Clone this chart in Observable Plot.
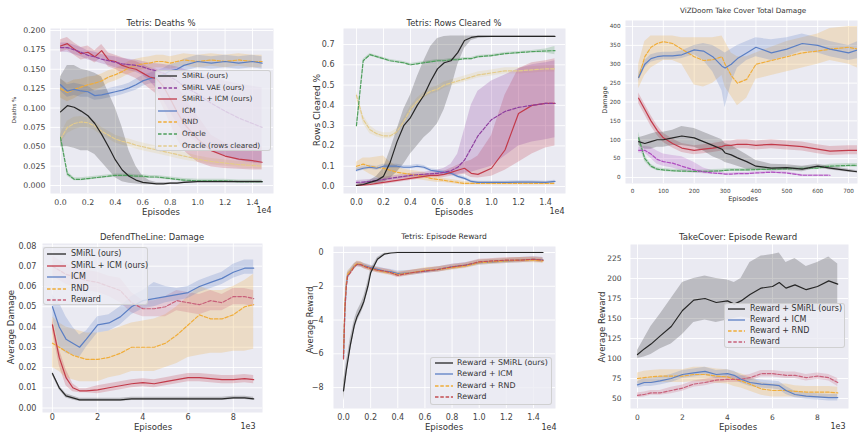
<!DOCTYPE html>
<html><head><meta charset="utf-8">
<script src="https://cdn.jsdelivr.net/npm/d3@7"></script>
<script src="https://cdn.jsdelivr.net/npm/@observablehq/plot@0.6"></script>
<style>
html,body{margin:0;padding:0;background:#fff;}
#root{position:relative;width:860px;height:443px;overflow:hidden;font-family:"DejaVu Sans",sans-serif;color:#333;}
.pl{position:absolute;}
.tx{position:absolute;white-space:nowrap;line-height:1;}
.lg{position:absolute;box-sizing:border-box;background:rgba(236,236,243,0.82);border:1px solid rgba(205,205,205,0.9);border-radius:3px;}
.lgt{position:absolute;white-space:nowrap;line-height:1;color:#333;transform:translateY(-50%);}
.lgs{position:absolute;overflow:visible;}
</style></head><body><div id="root"></div><script>
// ---------- colours ----------
const BG = "#eaeaf2";
const C = {black:"#262626", vae:"#8e3f9f", smicm:"#c23a4a", icm:"#5b7fc4", rnd:"#f0ad3a",
           oracle:"#4e9f5c", orows:"#e3cb8c", reward:"#c8607a", reward5:"#c44e52", vae3:"#b04fc0"};

// ---------- Tetris: Deaths % (x in 1e4 episodes) ----------
const tetrisX = [0,0.05,0.1,0.15,0.2,0.25,0.3,0.35,0.4,0.45,0.5,0.55,0.6,0.65,0.7,0.75,0.8,0.85,0.9,1.0,1.1,1.2,1.3,1.4,1.47];
const deathsSmirl   = [0.095,0.103,0.101,0.096,0.090,0.080,0.066,0.050,0.033,0.020,0.012,0.007,0.004,0.003,0.002,0.002,0.003,0.003,0.004,0.005,0.005,0.005,0.005,0.005,0.005];
const deathsSmirlLo = [0.050,0.050,0.048,0.045,0.045,0.040,0.030,0.020,0.010,0.005,0.003,0.002,0.001,0.001,0.001,0.001,0.002,0.002,0.003,0.004,0.004,0.004,0.004,0.004,0.004];
const deathsSmirlHi = [0.140,0.155,0.155,0.150,0.148,0.145,0.140,0.120,0.100,0.075,0.045,0.025,0.012,0.006,0.004,0.004,0.004,0.004,0.005,0.006,0.006,0.006,0.006,0.006,0.006];
const deathsVae     = [0.178,0.178,0.175,0.172,0.168,0.166,0.163,0.161,0.159,0.157,0.156,0.155,0.153,0.150,0.148,0.145,0.140,0.135,0.128,0.118,0.106,0.096,0.087,0.080,0.075];
const deathsVaeLo   = [0.172,0.172,0.169,0.166,0.162,0.160,0.157,0.155,0.152,0.150,0.148,0.146,0.142,0.135,0.125,0.110,0.095,0.080,0.068,0.055,0.045,0.038,0.032,0.029,0.028];
const deathsVaeHi   = [0.184,0.184,0.181,0.178,0.174,0.172,0.169,0.167,0.166,0.164,0.163,0.162,0.160,0.158,0.157,0.156,0.155,0.153,0.150,0.145,0.140,0.135,0.131,0.128,0.126];
const deathsSmIcm   = [0.180,0.183,0.176,0.170,0.172,0.166,0.174,0.162,0.160,0.155,0.152,0.150,0.145,0.140,0.138,0.128,0.112,0.095,0.080,0.060,0.045,0.038,0.034,0.032,0.030];
const deathsSmIcmLo = [0.172,0.175,0.168,0.162,0.164,0.158,0.165,0.153,0.150,0.145,0.142,0.138,0.132,0.125,0.118,0.100,0.080,0.060,0.045,0.030,0.024,0.022,0.021,0.020,0.020];
const deathsSmIcmHi = [0.188,0.191,0.184,0.178,0.180,0.174,0.182,0.171,0.168,0.165,0.162,0.160,0.156,0.152,0.150,0.145,0.140,0.130,0.115,0.090,0.065,0.055,0.050,0.050,0.050];
const deathsIcm     = [0.130,0.122,0.124,0.122,0.121,0.116,0.117,0.119,0.121,0.123,0.126,0.130,0.135,0.138,0.140,0.143,0.148,0.150,0.155,0.160,0.158,0.160,0.158,0.160,0.158];
const deathsIcmW    = [0.008,0.008,0.008,0.008,0.007,0.006,0.006,0.006,0.006,0.006,0.006,0.007,0.007,0.007,0.008,0.008,0.008,0.008,0.008,0.008,0.008,0.008,0.008,0.008,0.008];
const deathsRnd     = [0.125,0.120,0.124,0.127,0.130,0.132,0.135,0.140,0.143,0.147,0.152,0.155,0.157,0.158,0.160,0.160,0.158,0.160,0.162,0.160,0.162,0.160,0.162,0.160,0.160];
const deathsRndW    = [0.012,0.012,0.012,0.010,0.010,0.009,0.009,0.008,0.008,0.008,0.008,0.008,0.008,0.008,0.008,0.008,0.008,0.008,0.008,0.008,0.008,0.008,0.008,0.008,0.008];
const deathsOracle  = [0.062,0.015,0.008,0.008,0.009,0.010,0.011,0.012,0.013,0.013,0.013,0.012,0.012,0.011,0.011,0.010,0.009,0.008,0.007,0.006,0.006,0.006,0.005,0.005,0.005];
const deathsOracleW = [0.004,0.003,0.002,0.002,0.002,0.002,0.002,0.002,0.002,0.002,0.002,0.002,0.002,0.002,0.002,0.002,0.002,0.002,0.002,0.002,0.002,0.002,0.002,0.002,0.002];
const deathsORows   = [0.060,0.075,0.080,0.082,0.081,0.077,0.070,0.065,0.060,0.057,0.055,0.052,0.050,0.048,0.046,0.044,0.042,0.040,0.038,0.034,0.031,0.029,0.027,0.026,0.025];
const deathsORowsW  = [0.006,0.008,0.008,0.007,0.006,0.006,0.005,0.005,0.005,0.005,0.005,0.005,0.005,0.005,0.005,0.005,0.005,0.005,0.005,0.004,0.004,0.004,0.004,0.004,0.004];

// ---------- Tetris: Rows Cleared % ----------
const rowsSmirl   = [0.005,0.010,0.020,0.030,0.050,0.120,0.220,0.300,0.340,0.400,0.450,0.520,0.580,0.610,0.620,0.660,0.720,0.735,0.740,0.740,0.740,0.740,0.740,0.740,0.740];
const rowsSmirlLo = [0.000,0.005,0.010,0.015,0.020,0.040,0.070,0.110,0.160,0.200,0.240,0.270,0.310,0.380,0.480,0.600,0.680,0.720,0.730,0.735,0.735,0.735,0.735,0.735,0.735];
const rowsSmirlHi = [0.010,0.020,0.030,0.050,0.090,0.180,0.280,0.380,0.450,0.540,0.620,0.690,0.730,0.740,0.742,0.742,0.742,0.742,0.742,0.742,0.742,0.742,0.742,0.742,0.742];
const rowsVae     = [0.020,0.022,0.025,0.030,0.035,0.040,0.045,0.050,0.055,0.058,0.060,0.063,0.065,0.070,0.078,0.095,0.130,0.190,0.250,0.330,0.370,0.390,0.400,0.410,0.410];
const rowsVaeLo   = [0.010,0.012,0.015,0.020,0.025,0.030,0.035,0.040,0.045,0.048,0.050,0.052,0.054,0.056,0.058,0.060,0.065,0.070,0.080,0.100,0.150,0.200,0.220,0.230,0.240];
const rowsVaeHi   = [0.030,0.032,0.035,0.040,0.045,0.050,0.055,0.060,0.065,0.068,0.070,0.075,0.080,0.090,0.110,0.160,0.280,0.400,0.470,0.520,0.550,0.580,0.600,0.610,0.620];
const rowsSmIcm   = [0.005,0.008,0.010,0.015,0.020,0.025,0.030,0.035,0.040,0.045,0.050,0.055,0.055,0.060,0.070,0.080,0.090,0.065,0.060,0.090,0.180,0.360,0.400,0.410,0.410];
const rowsSmIcmLo = [0.000,0.000,0.002,0.005,0.010,0.015,0.020,0.025,0.030,0.035,0.040,0.043,0.043,0.045,0.050,0.055,0.060,0.045,0.042,0.050,0.080,0.120,0.160,0.190,0.200];
const rowsSmIcmHi = [0.010,0.015,0.020,0.025,0.030,0.035,0.040,0.045,0.050,0.055,0.060,0.065,0.068,0.075,0.090,0.105,0.120,0.130,0.150,0.250,0.450,0.580,0.610,0.620,0.630];
const rowsIcm     = [0.080,0.090,0.095,0.090,0.100,0.100,0.100,0.095,0.095,0.100,0.095,0.080,0.075,0.070,0.065,0.050,0.040,0.025,0.020,0.020,0.020,0.022,0.022,0.020,0.025];
const rowsIcmW    = [0.010,0.010,0.010,0.010,0.010,0.010,0.010,0.009,0.009,0.009,0.009,0.008,0.008,0.008,0.008,0.008,0.008,0.006,0.006,0.006,0.006,0.006,0.006,0.006,0.006];
const rowsRnd     = [0.100,0.110,0.100,0.095,0.090,0.080,0.070,0.065,0.060,0.055,0.050,0.040,0.035,0.030,0.025,0.020,0.015,0.015,0.015,0.015,0.015,0.015,0.015,0.015,0.015];
const rowsRndW    = [0.020,0.030,0.040,0.050,0.060,0.040,0.030,0.020,0.020,0.020,0.020,0.015,0.015,0.010,0.010,0.010,0.008,0.008,0.008,0.008,0.008,0.008,0.008,0.008,0.008];
const rowsOracle  = [0.300,0.620,0.650,0.640,0.630,0.620,0.615,0.610,0.600,0.605,0.610,0.615,0.620,0.620,0.625,0.625,0.630,0.630,0.640,0.645,0.655,0.660,0.665,0.668,0.670];
const rowsOracleW = [0.010,0.008,0.006,0.006,0.006,0.006,0.006,0.006,0.006,0.006,0.006,0.006,0.006,0.006,0.006,0.006,0.006,0.006,0.006,0.006,0.006,0.006,0.006,0.010,0.020];
const rowsORows   = [0.450,0.330,0.280,0.260,0.250,0.250,0.270,0.320,0.380,0.420,0.450,0.470,0.480,0.500,0.510,0.520,0.530,0.540,0.550,0.560,0.570,0.570,0.575,0.580,0.580];
const rowsORowsW  = [0.020,0.020,0.020,0.015,0.015,0.015,0.015,0.015,0.015,0.015,0.015,0.015,0.015,0.015,0.015,0.015,0.015,0.015,0.015,0.015,0.015,0.015,0.015,0.015,0.015];

// ---------- ViZDoom Take Cover Total Damage ----------
const doomX = [20,40,60,80,100,130,160,200,230,260,290,300,320,340,370,400,450,500,550,600,640,700,730];
const doomIcm     = [265,300,315,320,322,322,325,338,335,320,295,290,300,315,330,345,330,340,355,350,340,330,338];
const doomIcmLo   = [255,290,305,310,312,312,315,325,310,280,230,185,250,290,310,320,310,320,335,330,320,310,315];
const doomIcmHi   = [275,310,325,330,332,332,335,350,355,350,335,330,340,350,360,370,365,370,380,370,360,350,360];
const doomRnd     = [265,320,345,355,360,355,340,320,310,312,320,300,270,250,260,300,310,320,330,335,340,345,340];
const doomRndLo   = [235,270,290,300,310,310,300,245,240,250,270,240,215,190,210,260,270,280,290,300,310,300,290];
const doomRndHi   = [300,360,375,375,375,375,370,370,370,370,375,360,330,320,320,330,345,360,370,380,395,400,400];
const doomSmIcm   = [210,180,150,125,105,90,78,72,75,78,82,85,85,88,88,85,88,85,82,75,70,72,72];
const doomSmIcmW  = [14,14,14,13,12,12,12,12,12,12,12,12,12,12,12,12,12,12,12,12,12,12,12];
const doomSmirl   = [95,90,95,100,100,105,110,105,95,85,75,65,60,52,42,30,25,26,22,30,25,18,15];
const doomSmirlLo = [85,75,75,80,80,85,85,80,70,55,45,40,35,30,22,20,18,18,15,25,20,14,12];
const doomSmirlHi = [105,110,115,120,120,125,135,130,120,110,100,90,85,75,60,45,35,34,30,35,30,22,18];
const doomOracle  = [105,50,30,22,20,18,17,16,16,17,18,19,20,20,20,21,22,23,24,25,30,32,32];
const doomOracleW = [15,8,5,4,4,4,4,4,4,4,4,4,4,4,4,4,4,4,4,4,5,5,5];
const doomVae     = [72,72,62,48,42,38,30,20,15,12,10,9,9,10,10,12,14,12,6,6,6,null,null];
const doomVaeLo   = [65,65,50,35,30,25,18,12,10,8,7,6,6,7,7,9,11,9,4,4,4,null,null];
const doomVaeHi   = [80,82,80,70,62,58,55,40,25,18,14,12,12,13,13,15,17,15,8,8,8,null,null];

// ---------- DefendTheLine: Damage (x in 1e3 episodes) ----------
const dtlX = [0,0.3,0.6,0.9,1.2,1.5,2,2.5,3,3.5,4,4.5,5,5.5,6,6.5,7,7.5,8,8.5,8.9];
const dtlSmirl   = [0.017,0.010,0.006,0.005,0.004,0.004,0.004,0.004,0.004,0.0045,0.0045,0.0045,0.0045,0.0045,0.0045,0.0045,0.0045,0.0045,0.005,0.005,0.0045];
const dtlSmirlW  = [0.001,0.001,0.001,0.001,0.0008,0.0008,0.0008,0.0008,0.0008,0.0008,0.0008,0.0008,0.0008,0.0008,0.0008,0.0008,0.0008,0.0008,0.0008,0.0008,0.0008];
const dtlSmIcm   = [0.041,0.025,0.015,0.010,0.0085,0.0085,0.009,0.010,0.011,0.012,0.0125,0.012,0.013,0.014,0.015,0.015,0.0145,0.014,0.014,0.0145,0.014];
const dtlSmIcmW  = [0.003,0.004,0.004,0.002,0.001,0.001,0.002,0.002,0.002,0.002,0.002,0.002,0.002,0.002,0.002,0.002,0.002,0.002,0.002,0.002,0.002];
const dtlIcm     = [0.050,0.040,0.034,0.032,0.030,0.034,0.041,0.042,0.045,0.050,0.053,0.054,0.055,0.056,0.057,0.060,0.062,0.064,0.067,0.069,0.069];
const dtlIcmLo   = [0.045,0.030,0.027,0.026,0.025,0.030,0.037,0.038,0.041,0.046,0.049,0.050,0.052,0.053,0.054,0.057,0.059,0.061,0.064,0.066,0.066];
const dtlIcmHi   = [0.056,0.052,0.045,0.040,0.036,0.038,0.045,0.046,0.050,0.055,0.058,0.062,0.060,0.059,0.060,0.063,0.065,0.067,0.071,0.073,0.073];
const dtlRnd     = [0.032,0.030,0.028,0.026,0.025,0.024,0.024,0.025,0.027,0.030,0.030,0.030,0.032,0.036,0.041,0.046,0.044,0.044,0.046,0.050,0.051];
const dtlRndLo   = [0.020,0.018,0.015,0.014,0.013,0.013,0.013,0.015,0.016,0.018,0.018,0.018,0.020,0.022,0.025,0.026,0.027,0.027,0.028,0.028,0.029];
const dtlRndHi   = [0.045,0.042,0.040,0.039,0.038,0.037,0.037,0.038,0.040,0.042,0.043,0.044,0.046,0.050,0.055,0.060,0.058,0.058,0.060,0.063,0.066];
const dtlReward  = [0.070,0.068,0.066,0.065,0.064,0.063,0.062,0.060,0.058,0.052,0.049,0.049,0.050,0.053,0.052,0.051,0.053,0.052,0.055,0.055,0.054];
const dtlRewardW = [0.005,0.005,0.005,0.005,0.005,0.005,0.005,0.005,0.006,0.005,0.004,0.004,0.005,0.005,0.005,0.005,0.005,0.004,0.004,0.004,0.004];

// ---------- Tetris: Episode Reward (x in 1e4 episodes) ----------
const trX = [0,0.01,0.02,0.03,0.05,0.08,0.1,0.13,0.15,0.18,0.2,0.25,0.3,0.35,0.4,0.5,0.6,0.7,0.8,0.9,1.0,1.1,1.2,1.3,1.4,1.47];
const trSmirl  = [-8.2,-7.6,-7.0,-6.5,-5.5,-4.3,-3.8,-3.3,-2.9,-2.0,-1.2,-0.4,-0.1,-0.03,0,0,0,0,0,0,0,0,0,0,0,0];
const trSmirlW = [0.6,0.5,0.5,0.4,0.4,0.3,0.3,0.3,0.3,0.3,0.2,0.1,0.05,0.02,0.02,0.02,0.02,0.02,0.02,0.02,0.02,0.02,0.02,0.02,0.02,0.02];
const trIcm    = [-6.2,-3.5,-2.0,-1.4,-1.1,-0.8,-0.7,-0.72,-0.78,-0.85,-0.9,-1.0,-1.1,-1.15,-1.25,-1.2,-1.1,-1.0,-0.85,-0.75,-0.6,-0.55,-0.5,-0.45,-0.4,-0.45];
const trRnd    = [-6.0,-3.2,-1.9,-1.3,-1.1,-0.8,-0.65,-0.7,-0.8,-0.9,-0.95,-1.05,-1.15,-1.2,-1.3,-1.2,-1.05,-1.0,-0.9,-0.8,-0.6,-0.55,-0.5,-0.45,-0.45,-0.5];
const trReward = [-6.3,-3.4,-2.1,-1.4,-1.2,-0.85,-0.7,-0.72,-0.82,-0.9,-0.95,-1.05,-1.1,-1.2,-1.35,-1.2,-1.1,-1.0,-0.85,-0.75,-0.55,-0.5,-0.45,-0.45,-0.4,-0.45];
const trW      = [0.3,0.3,0.25,0.2,0.15,0.15,0.15,0.15,0.15,0.15,0.15,0.15,0.15,0.15,0.15,0.15,0.15,0.15,0.15,0.15,0.15,0.15,0.15,0.15,0.15,0.15];

// ---------- TakeCover: Episode Reward (x in 1e3 episodes) ----------
const tcX = [0,0.3,0.6,1,1.5,2,2.5,3,3.5,4,4.3,4.6,5,5.5,6,6.3,6.6,7,7.5,8,8.5,8.9];
const tcSmirl   = [105,112,118,128,140,160,173,175,170,172,168,172,180,188,190,195,188,192,186,190,197,193];
const tcSmirlLo = [100,102,105,112,118,130,145,148,145,148,150,152,150,155,158,162,160,160,158,160,165,165];
const tcSmirlHi = [110,125,140,155,175,195,200,203,200,198,195,200,220,228,230,232,220,225,215,220,227,218];
const tcIcm     = [67,70,70,72,75,80,82,84,80,81,79,74,70,68,67,66,60,55,53,52,51,51];
const tcIcmW    = [4,5,5,5,5,5,5,5,5,5,5,5,5,5,5,5,5,4,4,4,4,4];
const tcRnd     = [75,76,77,78,78,78,80,80,78,77,74,72,68,62,60,60,60,59,58,58,58,57];
const tcRndW    = [7,8,8,8,8,8,9,9,9,9,9,9,9,8,8,8,8,7,7,7,7,7];
const tcReward  = [54,55,57,57,60,63,68,70,73,74,74,74,76,81,81,80,79,79,76,78,76,70];
const tcRewardW = [3,3,3,3,4,4,4,4,4,4,4,4,4,4,4,4,4,4,4,4,4,5];

// ---------- tick values ----------
const ticksE4 = [0,0.2,0.4,0.6,0.8,1.0,1.2,1.4];
const ticksDeaths = [0,0.025,0.05,0.075,0.1,0.125,0.15,0.175,0.2];
const ticksRows = [0,0.1,0.2,0.3,0.4,0.5,0.6,0.7];
const ticksDoomX = [0,100,200,300,400,500,600,700];
const ticksDoomY = [0,50,100,150,200,250,300,350,400];
const ticksE3 = [0,2,4,6,8];
const ticksDtl = [0,0.01,0.02,0.03,0.04,0.05,0.06,0.07,0.08];
const ticksTr = [-8,-6,-4,-2,0];
const ticksTc = [50,75,100,125,150,175,200,225];

// ---------- helpers ----------
function band(x, m, lo, hi){ return x.map((v,i)=>({x:v,m:m[i],lo:lo[i],hi:hi[i]})).filter(d=>d.m!=null); }
function bandW(x, m, w){ return x.map((v,i)=>({x:v,m:m[i],lo:m[i]-w[i],hi:m[i]+w[i]})); }
const root = document.getElementById("root");

function panel(c){
  const marks = [
    Plot.frame({fill:BG, stroke:"none"}),
    Plot.ruleX(c.xticks, {x:d=>d, stroke:"#fff", strokeWidth:0.9}),
    Plot.ruleY(c.yticks, {y:d=>d, stroke:"#fff", strokeWidth:0.9})
  ];
  for (const s of c.series) marks.push(Plot.areaY(s.data,{x:"x",y1:"lo",y2:"hi",fill:s.color,fillOpacity:s.fo ?? 0.24,clip:true}));
  for (const s of c.series) {
    const o = {x:"x",y:"m",stroke:s.color,strokeWidth:1.2,clip:true};
    if (s.dash) o.strokeDasharray = "3.5,1.8";
    marks.push(Plot.lineY(s.data,o));
  }
  marks.push(Plot.axisX({ticks:c.xticks,tickFormat:c.xfmt,tickSize:0,tickPadding:c.xpad,fontSize:c.font,label:null}));
  marks.push(Plot.axisY({ticks:c.yticks,tickFormat:c.yfmt,tickSize:0,tickPadding:c.ypad,fontSize:c.font,label:null}));
  const svg = Plot.plot({
    width:c.W, height:c.H,
    marginLeft:c.fx0-c.L, marginRight:c.L+c.W-c.fx1, marginTop:c.fy0-c.T, marginBottom:c.T+c.H-c.fy1,
    x:{domain:c.xdom}, y:{domain:c.ydom},
    style:{fontFamily:'"DejaVu Sans",sans-serif',color:"#444",background:"transparent",overflow:"visible"},
    marks
  });
  const d = document.createElement("div");
  d.className = "pl"; d.style.left = c.L+"px"; d.style.top = c.T+"px";
  d.appendChild(svg); root.appendChild(d);
}
function text(t, x, y, size, rot){
  const d = document.createElement("div");
  d.className = "tx"; d.textContent = t;
  d.style.left = x+"px"; d.style.top = y+"px"; d.style.fontSize = size+"px";
  d.style.transform = "translate(-50%,-50%)" + (rot ? " rotate(-90deg)" : "");
  root.appendChild(d);
}
function legend(b, items){
  const box = document.createElement("div");
  box.className = "lg";
  Object.assign(box.style,{left:b.x0+"px",top:b.y0+"px",width:(b.x1-b.x0)+"px",height:(b.y1-b.y0)+"px"});
  root.appendChild(box);
  items.forEach((it,i)=>{
    const y = b.ry + i*b.dy;
    const s = document.createElementNS("http://www.w3.org/2000/svg","svg");
    s.setAttribute("class","lgs"); s.setAttribute("width", b.lx1-b.lx0); s.setAttribute("height", 4);
    s.style.left = b.lx0+"px"; s.style.top = (y-2)+"px";
    const ln = document.createElementNS("http://www.w3.org/2000/svg","line");
    ln.setAttribute("x1",0); ln.setAttribute("x2",b.lx1-b.lx0); ln.setAttribute("y1",2); ln.setAttribute("y2",2);
    ln.setAttribute("stroke",it.color); ln.setAttribute("stroke-width",1.3);
    if (it.dash) ln.setAttribute("stroke-dasharray","3.5,1.8");
    s.appendChild(ln); root.appendChild(s);
    const t = document.createElement("div");
    t.className = "lgt"; t.textContent = it.label;
    t.style.left = b.tx+"px"; t.style.top = y+"px"; t.style.fontSize = b.font+"px";
    root.appendChild(t);
  });
}
const f1 = d3.format(".1f"), f2 = d3.format(".2f"), f3 = d3.format(".3f"), fd = d3.format("d");

// ---------- panel 1 ----------
panel({L:0,T:0,W:285,H:212,fx0:50,fx1:273,fy0:28,fy1:193,xdom:[-0.073,1.553],ydom:[-0.0103,0.2026],
  xticks:ticksE4,yticks:ticksDeaths,xfmt:f1,yfmt:f3,font:7.8,xpad:6,ypad:5,
  series:[
    {data:bandW(tetrisX,deathsORows,deathsORowsW),color:C.orows,dash:true},
    {data:bandW(tetrisX,deathsOracle,deathsOracleW),color:C.oracle,dash:true},
    {data:bandW(tetrisX,deathsRnd,deathsRndW),color:C.rnd,dash:true},
    {data:bandW(tetrisX,deathsIcm,deathsIcmW),color:C.icm},
    {data:band(tetrisX,deathsSmIcm,deathsSmIcmLo,deathsSmIcmHi),color:C.smicm},
    {data:band(tetrisX,deathsVae,deathsVaeLo,deathsVaeHi),color:C.vae,dash:true},
    {data:band(tetrisX,deathsSmirl,deathsSmirlLo,deathsSmirlHi),color:C.black}
  ]});
text("Tetris: Deaths %",161,23,8.5);
text("Episodes",161,212,8.5);
text("1e4",264,211,8);
text("Deaths %",15,110,5.5,true);
legend({x0:155,y0:70,x1:271,y1:151,ry:76,dy:11.6,lx0:158,lx1:177,tx:182,font:7.3},[
  {label:"SMiRL (ours)",color:C.black},
  {label:"SMiRL VAE (ours)",color:C.vae,dash:true},
  {label:"SMiRL + ICM (ours)",color:C.smicm},
  {label:"ICM",color:C.icm},
  {label:"RND",color:C.rnd,dash:true},
  {label:"Oracle",color:C.oracle,dash:true},
  {label:"Oracle (rows cleared)",color:C.orows,dash:true}
]);

// ---------- panel 2 ----------
panel({L:285,T:0,W:285,H:212,fx0:343,fx1:565,fy0:28,fy1:193,xdom:[-0.096,1.548],ydom:[-0.0345,0.779],
  xticks:ticksE4,yticks:ticksRows,xfmt:f1,yfmt:f1,font:8,xpad:6,ypad:9,
  series:[
    {data:bandW(tetrisX,rowsORows,rowsORowsW),color:C.orows,dash:true},
    {data:bandW(tetrisX,rowsOracle,rowsOracleW),color:C.oracle,dash:true},
    {data:bandW(tetrisX,rowsRnd,rowsRndW),color:C.rnd,dash:true},
    {data:bandW(tetrisX,rowsIcm,rowsIcmW),color:C.icm},
    {data:band(tetrisX,rowsSmIcm,rowsSmIcmLo,rowsSmIcmHi),color:C.smicm},
    {data:band(tetrisX,rowsVae,rowsVaeLo,rowsVaeHi),color:C.vae,dash:true},
    {data:band(tetrisX,rowsSmirl,rowsSmirlLo,rowsSmirlHi),color:C.black}
  ]});
text("Tetris: Rows Cleared %",454,23,8.4);
text("Episodes",454,212,8.6);
text("1e4",557,212,8);
text("Rows Cleared %",317,110,9,true);

// ---------- panel 3 ----------
panel({L:570,T:0,W:290,H:205,fx0:625,fx1:857,fy0:20,fy1:183,xdom:[-22.6,729],ydom:[-15.9,415.9],
  xticks:ticksDoomX,yticks:ticksDoomY,xfmt:fd,yfmt:fd,font:5.7,xpad:5,ypad:5,
  series:[
    {data:band(doomX,doomRnd,doomRndLo,doomRndHi),color:C.rnd,dash:true},
    {data:band(doomX,doomIcm,doomIcmLo,doomIcmHi),color:C.icm},
    {data:bandW(doomX,doomSmIcm,doomSmIcmW),color:C.smicm},
    {data:bandW(doomX,doomOracle,doomOracleW),color:C.oracle,dash:true},
    {data:band(doomX,doomVae,doomVaeLo,doomVaeHi),color:C.vae3,dash:true},
    {data:band(doomX,doomSmirl,doomSmirlLo,doomSmirlHi),color:C.black}
  ]});
text("ViZDoom Take Cover Total Damage",743,11,7.2);
text("Episodes",743,199,6.7);
text("Damage",605,100,6.5,true);

// ---------- panel 4 ----------
panel({L:0,T:220,W:285,H:223,fx0:42,fx1:262,fy0:243,fy1:412,xdom:[-0.44,9.29],ydom:[-0.0022,0.0812],
  xticks:ticksE3,yticks:ticksDtl,xfmt:fd,yfmt:f2,font:8.1,xpad:2,ypad:6,
  series:[
    {data:band(dtlX,dtlRnd,dtlRndLo,dtlRndHi),color:C.rnd,dash:true},
    {data:bandW(dtlX,dtlReward,dtlRewardW),color:C.reward,dash:true},
    {data:band(dtlX,dtlIcm,dtlIcmLo,dtlIcmHi),color:C.icm},
    {data:bandW(dtlX,dtlSmIcm,dtlSmIcmW),color:C.smicm},
    {data:bandW(dtlX,dtlSmirl,dtlSmirlW),color:C.black}
  ]});
text("DefendTheLine: Damage",152,237,8.4);
text("Episodes",153,427,8.6);
text("1e3",248,427,8);
text("Average Damage",11,327,8.6,true);
legend({x0:43,y0:247,x1:148,y1:305,ry:254,dy:11.5,lx0:47,lx1:66,tx:71,font:8},[
  {label:"SMiRL (ours)",color:C.black},
  {label:"SMiRL + ICM (ours)",color:C.smicm},
  {label:"ICM",color:C.icm},
  {label:"RND",color:C.rnd,dash:true},
  {label:"Reward",color:C.reward,dash:true}
]);

// ---------- panel 5 ----------
panel({L:285,T:220,W:285,H:223,fx0:333,fx1:555,fy0:246,fy1:408,xdom:[-0.0737,1.562],ydom:[-9.24,0.356],
  xticks:ticksE4,yticks:ticksTr,xfmt:f1,yfmt:fd,font:8,xpad:6,ypad:10,
  series:[
    {data:bandW(trX,trIcm,trW),color:C.icm},
    {data:bandW(trX,trRnd,trW),color:C.rnd,dash:true},
    {data:bandW(trX,trReward,trW),color:C.reward5,dash:true},
    {data:bandW(trX,trSmirl,trSmirlW),color:C.black}
  ]});
text("Tetris: Episode Reward",444,237,7.6);
text("Episodes",444,427,8.6);
text("1e4",549,428,8);
text("Average Reward",310,320,8.2,true);
legend({x0:430,y0:357,x1:552,y1:405,ry:363,dy:11.3,lx0:435,lx1:453,tx:457,font:7.9},[
  {label:"Reward + SMiRL (ours)",color:C.black},
  {label:"Reward + ICM",color:C.icm},
  {label:"Reward + RND",color:C.rnd,dash:true},
  {label:"Reward",color:C.reward5,dash:true}
]);

// ---------- panel 6 ----------
panel({L:570,T:220,W:290,H:223,fx0:630,fx1:848,fy0:244,fy1:408,xdom:[-0.311,9.378],ydom:[37.5,242.5],
  xticks:ticksE3,yticks:ticksTc,xfmt:fd,yfmt:fd,font:7.5,xpad:6,ypad:9,
  series:[
    {data:bandW(tcX,tcRnd,tcRndW),color:C.rnd,dash:true},
    {data:bandW(tcX,tcReward,tcRewardW),color:C.reward,dash:true},
    {data:bandW(tcX,tcIcm,tcIcmW),color:C.icm},
    {data:band(tcX,tcSmirl,tcSmirlLo,tcSmirlHi),color:C.black}
  ]});
text("TakeCover: Episode Reward",738,237,8.6);
text("Episodes",738,427,8.6);
text("1e3",838,427,8);
text("Average Reward",602,327,8.7,true);
legend({x0:724,y0:303,x1:845,y1:348,ry:309,dy:11,lx0:728,lx1:745,tx:750,font:8},[
  {label:"Reward + SMiRL (ours)",color:C.black},
  {label:"Reward + ICM",color:C.icm},
  {label:"Reward + RND",color:C.rnd,dash:true},
  {label:"Reward",color:C.reward,dash:true}
]);
</script></body></html>
